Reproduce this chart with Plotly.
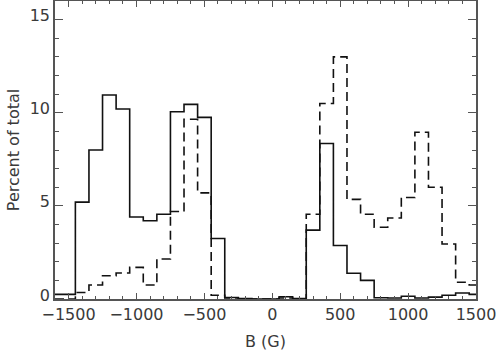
import plotly.graph_objects as go

# Bin centres (G) and percentages for the two histograms
b_field = [-1600, -1500, -1400, -1300, -1200, -1100, -1000, -900, -800, -700,
           -600, -500, -400, -300, -200, -100, 0, 100, 200, 300,
           400, 500, 600, 700, 800, 900, 1000, 1100, 1200, 1300,
           1400, 1500]

solid_pct = [0.25, 0.25, 5.2, 8.0, 10.95, 10.2, 4.4, 4.2, 4.55, 10.05,
             10.45, 9.75, 3.25, 0.08, 0.02, 0.0, 0.0, 0.12, 0.02, 3.7,
             8.35, 2.87, 1.38, 1.0, 0.07, 0.05, 0.15, 0.05, 0.1, 0.2,
             0.32, 0.25]

dashed_pct = [0.0, 0.0, 0.35, 0.75, 1.25, 1.4, 1.7, 0.75, 2.15, 4.7,
              9.65, 5.7, 0.2, 0.05, 0.0, 0.0, 0.0, 0.05, 0.0, 4.55,
              10.5, 13.0, 5.35, 4.55, 3.85, 4.35, 5.45, 8.95, 6.0, 2.95,
              0.9, 0.75]

x_ticks = [-1500, -1000, -500, 0, 500, 1000, 1500]
y_ticks = [0, 5, 10, 15]

FONT = dict(family="DejaVu Sans", size=16, color="#3a3a3a")
AXIS_COLOR = "#555555"

fig = go.Figure()

fig.add_trace(
    go.Scatter(
        x=b_field,
        y=solid_pct,
        mode="lines",
        line=dict(shape="hvh", color="#111111", width=1.6),
        showlegend=False,
    )
)
fig.add_trace(
    go.Scatter(
        x=b_field,
        y=dashed_pct,
        mode="lines",
        line=dict(shape="hvh", color="#111111", width=1.6, dash="9px,5px"),
        showlegend=False,
    )
)

fig.update_layout(
    width=497,
    height=351,
    margin=dict(l=55, r=21, t=1, b=52, autoexpand=False),
    paper_bgcolor="white",
    plot_bgcolor="white",
    font=FONT,
    showlegend=False,
)

fig.update_xaxes(
    range=[-1600, 1500],
    tickvals=x_ticks,
    ticks="inside",
    ticklen=6,
    tickwidth=1.2,
    tickcolor=AXIS_COLOR,
    minor=dict(dtick=100, tick0=0, ticks="inside", ticklen=3, tickcolor=AXIS_COLOR),
    showline=True,
    linecolor=AXIS_COLOR,
    linewidth=1.5,
    mirror="ticks",
    showgrid=False,
    zeroline=False,
    title=dict(text="B (G)", font=FONT, standoff=13),
    tickfont=FONT,
)

fig.update_yaxes(
    range=[0, 16],
    tickvals=y_ticks,
    ticks="inside",
    ticklen=8,
    tickwidth=1.2,
    tickcolor=AXIS_COLOR,
    minor=dict(dtick=1, tick0=0, ticks="inside", ticklen=4, tickcolor=AXIS_COLOR),
    showline=True,
    linecolor=AXIS_COLOR,
    linewidth=1.5,
    mirror="ticks",
    showgrid=False,
    zeroline=False,
    ticklabelshift=-4,
    title=dict(text="Percent of total", font=FONT, standoff=6),
    tickfont=FONT,
)

# drop the default page margin so the figure sits at the window's corner
fig.write_html(
    "out.html",
    config={"displayModeBar": False},
    post_script="document.body.style.margin='0';",
)
